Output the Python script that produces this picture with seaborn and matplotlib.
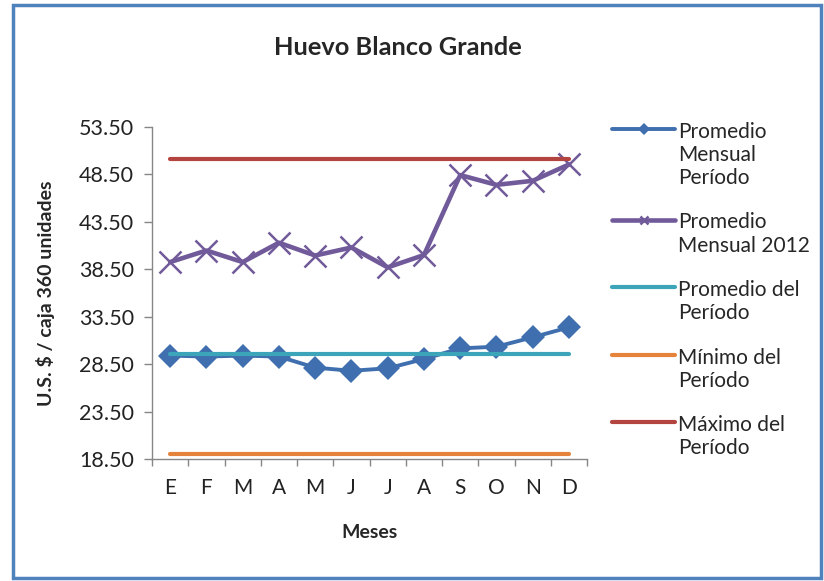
import pandas as pd
import seaborn as sns
import matplotlib.pyplot as plt
from matplotlib.patches import Rectangle
from matplotlib.ticker import FixedLocator, FormatStrFormatter

# data
meses = ["E", "F", "M", "A", "M ", "J", "J ", "A ", "S", "O", "N", "D"]
mes_labels = ["E", "F", "M", "A", "M", "J", "J", "A", "S", "O", "N", "D"]
promedio_mensual_periodo = [29.40, 29.30, 29.40, 29.30, 28.13, 27.80, 28.06, 29.04, 30.16, 30.34, 31.33, 32.38]
promedio_mensual_2012 = [39.26, 40.48, 39.26, 41.30, 39.95, 40.80, 38.70, 40.00, 48.43, 47.40, 47.83, 49.55]
promedio_del_periodo = 29.55
minimo_del_periodo = 19.0
maximo_del_periodo = 50.1

labels = ["Promedio\nMensual\nPeríodo", "Promedio\nMensual 2012", "Promedio del\nPeríodo",
          "Mínimo del\nPeríodo", "Máximo del\nPeríodo"]

df = pd.DataFrame({
    "mes": meses,
    "pmp": promedio_mensual_periodo,
    "pm2012": promedio_mensual_2012,
    "prom": [promedio_del_periodo] * len(meses),
    "min": [minimo_del_periodo] * len(meses),
    "max": [maximo_del_periodo] * len(meses),
})

sns.set_theme(style="white")
plt.rcParams['font.family'] = ['Lato', 'DejaVu Sans']

fig = plt.figure(figsize=(8.24, 5.81), dpi=100)
ax = fig.add_axes([0.1845, 0.21, 0.528, 0.5714])

c_blue = "#3F6FAE"
c_purple = "#715A9A"
c_teal = "#3DA5BA"
c_orange = "#E5833B"
c_red = "#B4443F"

sns.lineplot(data=df, x="mes", y="pmp", ax=ax, color=c_blue, lw=2.8, marker="D",
             markersize=12.5, markeredgewidth=0, label=labels[0], sort=False)
sns.lineplot(data=df, x="mes", y="pm2012", ax=ax, color=c_purple, lw=3.3, marker="x",
             markersize=16, markeredgewidth=1.8, markeredgecolor=c_purple, label=labels[1], sort=False)
sns.lineplot(data=df, x="mes", y="prom", ax=ax, color=c_teal, lw=3, label=labels[2],
             sort=False, solid_capstyle="round")
sns.lineplot(data=df, x="mes", y="min", ax=ax, color=c_orange, lw=3, label=labels[3],
             sort=False, solid_capstyle="round")
sns.lineplot(data=df, x="mes", y="max", ax=ax, color=c_red, lw=3, label=labels[4],
             sort=False, solid_capstyle="round")

ax.set_xlim(-0.5, 11.5)
ax.set_ylim(18.5, 53.5)
ax.set_yticks([18.5, 23.5, 28.5, 33.5, 38.5, 43.5, 48.5, 53.5])
ax.yaxis.set_major_formatter(FormatStrFormatter("%.2f"))
ax.set_xticks(range(12))
ax.set_xticklabels(mes_labels)
ax.xaxis.set_minor_locator(FixedLocator([i - 0.5 for i in range(13)]))
ax.tick_params(axis="x", which="major", length=0, pad=14, labelsize=15, colors="#222222")
ax.tick_params(axis="x", which="minor", length=5, width=1, color="#868686", bottom=True)
ax.tick_params(axis="y", which="major", length=6, width=1, color="#868686", left=True,
               labelsize=15.5, labelcolor="#222222", pad=7)

for s in ["top", "right"]:
    ax.spines[s].set_visible(False)
for s in ["left", "bottom"]:
    ax.spines[s].set_color("#868686")
    ax.spines[s].set_linewidth(1)

ax.set_xlabel("Meses", fontsize=14, fontweight="bold")
ax.xaxis.set_label_coords(0.5, -0.197)
ax.set_ylabel("U.S. $ / caja 360 unidades", fontsize=14, fontweight="bold")
ax.yaxis.set_label_coords(-0.222, 0.5)
fig.text(0.483, 0.919, "Huevo Blanco Grande", ha="center", va="center",
         fontsize=18.3, fontweight="bold")

handles, labs = ax.get_legend_handles_labels()
ax.get_legend().remove()
leg = fig.legend(handles, labs, loc="upper left", bbox_to_anchor=(0.733, 0.805),
                 frameon=False, fontsize=15, handlelength=3.0, handletextpad=0.15,
                 labelspacing=1.17, borderaxespad=0)
for col in leg._legend_handle_box.get_children():
    for item in col.get_children():
        item.align = "top"
for h in leg.legend_handles:
    h.set_markersize(6)

fig.add_artist(Rectangle((0.0155, 0.006), 0.981, 0.986, transform=fig.transFigure,
                         fill=False, edgecolor="#4F81BD", lw=2.5))

fig.savefig("out.png", dpi=100)
